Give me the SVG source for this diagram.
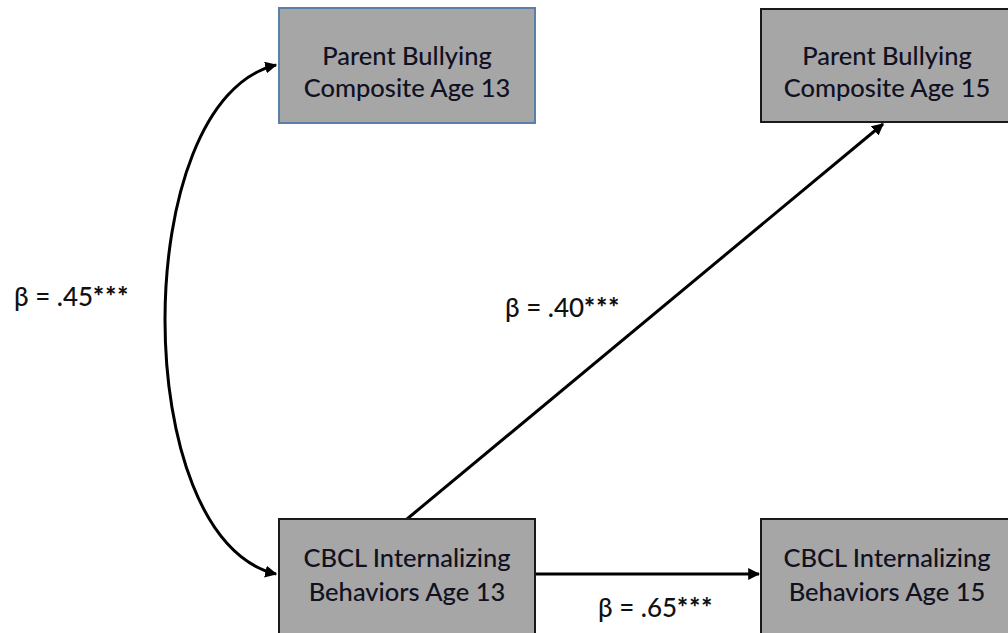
<svg xmlns="http://www.w3.org/2000/svg" width="1008" height="633" viewBox="0 0 1008 633">
<defs>
<style>
.box{fill:#a6a6a6;stroke:#1a1a1a;stroke-width:2}
.t{font-family:Lato,"Open Sans","Liberation Sans",sans-serif;font-size:25.5px;font-weight:500;fill:#111122;text-anchor:middle}
.lbl{font-family:Lato,"Open Sans","Liberation Sans",sans-serif;font-size:26px;font-weight:500;fill:#111}
.s{font-weight:900;letter-spacing:1px}
.c{fill:none;stroke:#000;stroke-width:3;marker-end:url(#ah)}
.both{marker-start:url(#ah)}
</style>
<marker id="ah" viewBox="0 0 10 10" refX="9" refY="5" markerWidth="4" markerHeight="4" orient="auto-start-reverse" markerUnits="strokeWidth">
<path d="M0,0 L10,5 L0,10 z" fill="#000"/>
</marker>
</defs>
<rect width="1008" height="633" fill="#fff"/>
<g id="connectors">
<path class="c both" d="M276,574 C128,540 128,100 276,65"/>
<path class="c" d="M407,519 L883,124"/>
<path class="c" d="M535,574 L759,574"/>
</g>
<g id="pb13">
<rect class="box" x="279" y="8" width="256" height="115" style="stroke:#5b7fa8"/>
<text class="t" x="407" y="65">Parent Bullying</text>
<text class="t" x="407" y="97">Composite Age 13</text>
</g>
<g id="pb15">
<rect class="box" x="761" y="9" width="256" height="113"/>
<text class="t" x="887" y="65">Parent Bullying</text>
<text class="t" x="887" y="97">Composite Age 15</text>
</g>
<g id="cbcl13">
<rect class="box" x="279" y="519" width="256" height="125"/>
<text class="t" x="407" y="567">CBCL Internalizing</text>
<text class="t" x="407" y="601">Behaviors Age 13</text>
</g>
<g id="cbcl15">
<rect class="box" x="761" y="519" width="256" height="125"/>
<text class="t" x="887" y="567">CBCL Internalizing</text>
<text class="t" x="887" y="601">Behaviors Age 15</text>
</g>
<g id="labels">
<text class="lbl" x="14" y="306">β = .45<tspan class="s">***</tspan></text>
<text class="lbl" x="505" y="317">β = .40<tspan class="s">***</tspan></text>
<text class="lbl" x="598" y="617">β = .65<tspan class="s">***</tspan></text>
</g>
</svg>
